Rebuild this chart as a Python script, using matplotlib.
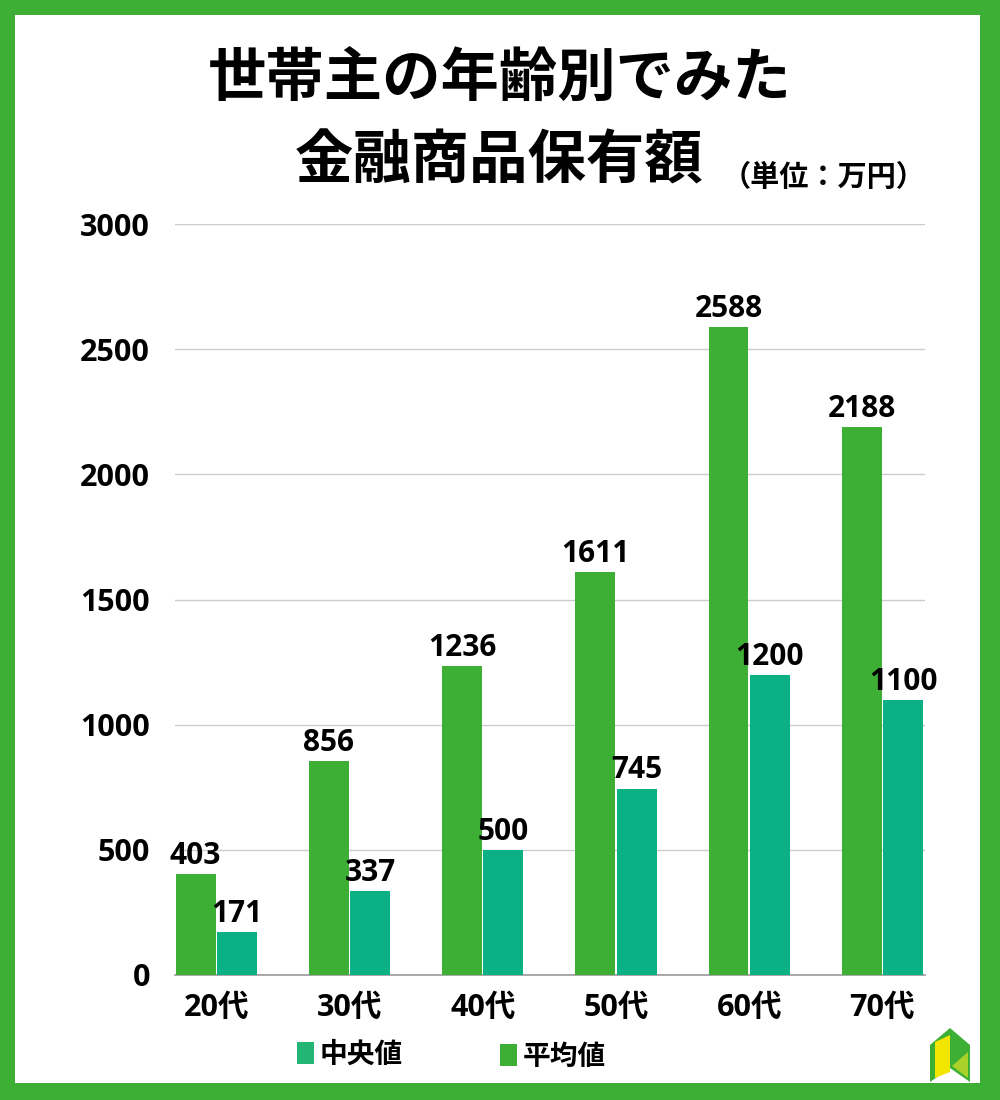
import numpy as np
import matplotlib
matplotlib.use("Agg")
import matplotlib.pyplot as plt
from matplotlib.patches import Rectangle, Polygon

plt.rcParams['font.family'] = ['Open Sans', 'Noto Sans CJK JP', 'DejaVu Sans']
cjk = ['Noto Sans CJK JP', 'DejaVu Sans']

# data (万円)
ages = ['20代', '30代', '40代', '50代', '60代', '70代']
mean_vals = [403, 856, 1236, 1611, 2588, 2188]     # 平均値
median_vals = [171, 337, 500, 745, 1200, 1100]     # 中央値
yticks = [0, 500, 1000, 1500, 2000, 2500, 3000]

green = '#3daf35'
teal = '#0bb085'

fig = plt.figure(figsize=(10, 11), dpi=100)
fig.patch.set_facecolor(green)
# white inner panel (green frame around it)
fig.patches.append(Rectangle((15 / 1000, 17 / 1100), 965 / 1000, 1068 / 1100,
                             transform=fig.transFigure, facecolor='white',
                             edgecolor='none', zorder=-10))

ax = fig.add_axes([0.175, 1 - 975 / 1100, 0.75, (975 - 224) / 1100])
ax.set_zorder(5)
ax.patch.set_alpha(0)

x = np.arange(len(ages))
w = 0.3
b1 = ax.bar(x - 0.155, mean_vals, w, color=green, zorder=3)
b2 = ax.bar(x + 0.155, median_vals, w, color=teal, zorder=3)

for bars, vals in [(b1, mean_vals), (b2, median_vals)]:
    for r, v in zip(bars, vals):
        ax.text(r.get_x() + r.get_width() / 2, v + 12, str(v), ha='center',
                va='bottom', fontsize=21.5, fontweight='bold', color='black')

ax.set_xlim(-0.31, 5.32)
ax.set_ylim(0, 3000)
ax.set_yticks(yticks)
ax.set_yticklabels([str(t) for t in yticks], fontsize=22, fontweight='bold')
ax.set_xticks(x)
ax.set_xticklabels(ages, fontsize=22, fontweight='bold')
ax.tick_params(axis='both', length=0)
ax.tick_params(axis='y', pad=18)
ax.tick_params(axis='x', pad=13)
ax.grid(axis='y', color='#cccccc', linewidth=1, zorder=0)
for s in ['top', 'right', 'left']:
    ax.spines[s].set_visible(False)
ax.spines['bottom'].set_color('#999999')
ax.spines['bottom'].set_linewidth(1.2)

# title
fig.text(0.5, 1 - 80 / 1100, '世帯主の年齢別でみた', ha='center', va='center',
         fontsize=42, fontweight='bold', family=cjk)
fig.text(0.499, 1 - 162 / 1100, '金融商品保有額', ha='center', va='center',
         fontsize=42, fontweight='bold', family=cjk)
fig.text(0.722, 1 - 177 / 1100, '（単位：万円）', ha='left', va='center',
         fontsize=21, fontweight='bold', family=cjk)

# legend
fig.patches.append(Rectangle((297 / 1000, 1 - 1064 / 1100), 17 / 1000, 22 / 1100,
                             transform=fig.transFigure, facecolor='#22b573',
                             edgecolor='none'))
fig.text(320 / 1000, 1 - 1055 / 1100, '中央値', ha='left', va='center',
         fontsize=20, fontweight='bold', family=cjk)
fig.patches.append(Rectangle((500 / 1000, 1 - 1066 / 1100), 17 / 1000, 22 / 1100,
                             transform=fig.transFigure, facecolor=green,
                             edgecolor='none'))
fig.text(523 / 1000, 1 - 1057 / 1100, '平均値', ha='left', va='center',
         fontsize=20, fontweight='bold', family=cjk)

# small door logo (bottom right)
def fp(px, py):
    return (px / 1000, 1 - py / 1100)

fig.patches.append(Polygon([fp(930, 1045), fp(950, 1028), fp(970, 1045),
                            fp(970, 1082), fp(950, 1068), fp(930, 1082)],
                           closed=True, transform=fig.transFigure,
                           facecolor=green, edgecolor='none'))
fig.patches.append(Polygon([fp(935, 1042), fp(950, 1035), fp(950, 1072), fp(935, 1078)],
                           closed=True, transform=fig.transFigure,
                           facecolor='#f2e600', edgecolor='none'))
fig.patches.append(Polygon([fp(952, 1066), fp(968, 1052), fp(968, 1078)],
                           closed=True, transform=fig.transFigure,
                           facecolor='#a8d12a', edgecolor='none'))

fig.savefig('out.png', dpi=100, facecolor=fig.get_facecolor())
